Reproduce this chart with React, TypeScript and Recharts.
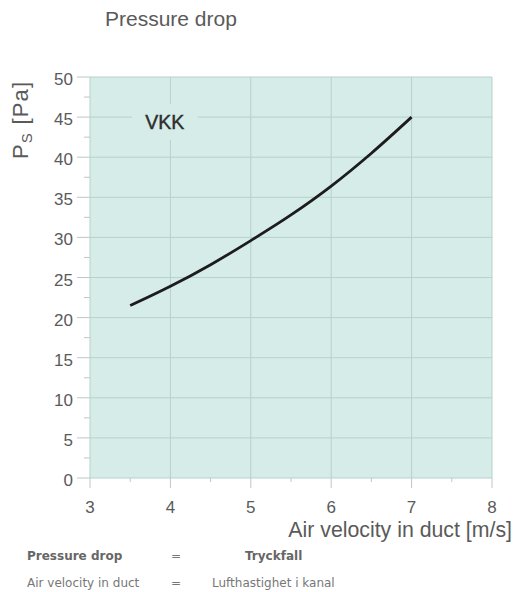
import { LineChart, Line, XAxis, YAxis, CartesianGrid, ReferenceArea } from 'recharts';

// air velocity in duct [m/s] and static pressure drop [Pa]
const velocity = [3.5, 4, 4.5, 5, 5.5, 6, 6.5, 7];
const pressure = [21.5, 23.9, 26.6, 29.6, 32.8, 36.4, 40.5, 45];

const xTicks = [3, 3.5, 4, 4.5, 5, 5.5, 6, 6.5, 7, 7.5, 8];
const xMajor = [3, 4, 5, 6, 7, 8];
const yTicks = [0, 2.5, 5, 7.5, 10, 12.5, 15, 17.5, 20, 22.5, 25, 27.5, 30, 32.5, 35, 37.5, 40, 42.5, 45, 47.5, 50];
const yMajor = [0, 5, 10, 15, 20, 25, 30, 35, 40, 45, 50];

const data = velocity.map((v, i) => ({ v, ps: pressure[i] }));

const bg = '#d6ece8';
const gridColor = '#b7d1cc';
const tickColor = '#bcc8c5';
const textColor = '#5a5a5a';
const font = '"Liberation Sans", Arial, sans-serif';

const callScale = (axis: any, v: number) => {
  const s = axis?.scale;
  if (typeof s === 'function') return s(v);
  if (s && typeof s.map === 'function') return s.map(v);
  return 0;
};

function YTick({ x, y, payload }: any) {
  const major = payload.value % 5 === 0;
  return (
    <g>
      <line x1={x - (major ? 13 : 6)} x2={x} y1={y} y2={y} stroke={tickColor} />
      {major && (
        <text x={x - 17} y={y + 8} textAnchor="end" fontSize={17} fill={textColor} fontFamily={font}>
          {payload.value}
        </text>
      )}
    </g>
  );
}

function XTick({ x, y, payload }: any) {
  const major = Number.isInteger(payload.value);
  return (
    <g>
      <line x1={x} x2={x} y1={y} y2={y + (major ? 10 : 4)} stroke={tickColor} />
      {major && (
        <text x={x} y={y + 35} textAnchor="middle" fontSize={17} fill={textColor} fontFamily={font}>
          {payload.value}
        </text>
      )}
    </g>
  );
}

export default function App() {
  return (
    <div style={{ position: 'absolute', left: 0, top: 0, width: 516, height: 592, background: '#fff' }}>
      <LineChart width={516} height={592} data={data} margin={{ top: 77, right: 24, bottom: 74, left: 30 }}>
        <CartesianGrid
          fill={bg}
          fillOpacity={1}
          stroke={gridColor}
          horizontalCoordinatesGenerator={({ yAxis }: any) => yMajor.map((v) => callScale(yAxis, v))}
          verticalCoordinatesGenerator={({ xAxis }: any) => xMajor.map((v) => callScale(xAxis, v))}
        />
        <XAxis
          dataKey="v"
          type="number"
          domain={[3, 8]}
          ticks={xTicks}
          interval={0}
          height={40}
          tickSize={0}
          tickMargin={0}
          tickLine={false}
          axisLine={false}
          tick={<XTick />}
        />
        <YAxis
          type="number"
          domain={[0, 50]}
          ticks={yTicks}
          interval={0}
          width={60}
          tickSize={0}
          tickMargin={0}
          tickLine={false}
          axisLine={false}
          tick={<YTick />}
        />
        <ReferenceArea
          x1={3.52}
          x2={4.34}
          y1={42.1}
          y2={46.6}
          fill={bg}
          fillOpacity={1}
          stroke="none"
          label={{
            value: 'VKK',
            position: 'center',
            fill: '#2e2e2e',
            stroke: '#2e2e2e',
            strokeWidth: 0.4,
            fontSize: 19.5,
            fontFamily: font,
          }}
        />
        <Line
          type="monotone"
          dataKey="ps"
          stroke="#1c1c1c"
          strokeWidth={2.8}
          dot={false}
          activeDot={false}
          isAnimationActive={false}
        />
      </LineChart>
      <svg
        width={516}
        height={592}
        style={{ position: 'absolute', left: 0, top: 0, pointerEvents: 'none' }}
      >
        <text x={105} y={26} fontSize={21} fill={textColor} fontFamily={font}>
          Pressure drop
        </text>
        <text
          transform="translate(28,159) rotate(-90)"
          fontSize={22}
          letterSpacing={1.2}
          fill={textColor}
          fontFamily={font}
        >
          P
          <tspan fontSize={15} dy={4}>
            S
          </tspan>
          <tspan dy={-4}> [Pa]</tspan>
        </text>
        <text x={512} y={537} textAnchor="end" fontSize={21.3} fill={textColor} fontFamily={font}>
          Air velocity in duct [m/s]
        </text>
        <g fontFamily='"DejaVu Sans", Verdana, sans-serif' fontSize={12}>
          <text x={27} y={560} fontWeight="bold" fill="#666">Pressure drop</text>
          <text x={176} y={560} textAnchor="middle" fill="#777">=</text>
          <text x={245} y={560} fontWeight="bold" fill="#666">Tryckfall</text>
          <text x={27} y={587} fill="#777">Air velocity in duct</text>
          <text x={176} y={587} textAnchor="middle" fill="#777">=</text>
          <text x={212} y={587} fill="#777">Lufthastighet i kanal</text>
        </g>
      </svg>
    </div>
  );
}
